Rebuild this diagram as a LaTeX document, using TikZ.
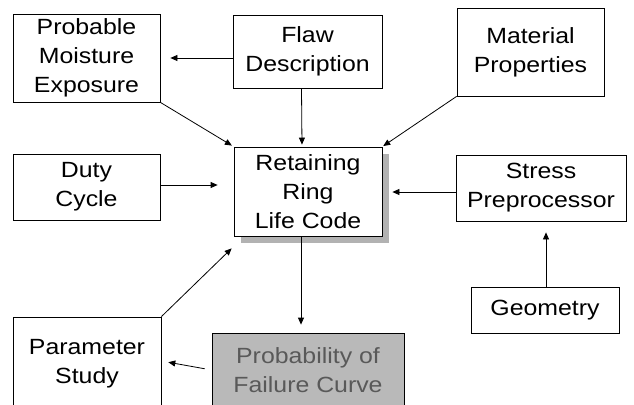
\documentclass[tikz,border=0pt]{standalone}
\usepackage{fontspec}
\setmainfont[FakeStretch=1.13]{Liberation Sans}
\usetikzlibrary{arrows.meta, shadows}
\tikzset{
	>={Triangle[length=7pt,width=6pt]},
	every node/.append style={
		font={\fontsize{22}{29}\selectfont},
	},
	block/.append style={
		draw,
		line width=0.8pt,
		align = center,
		inner sep=0pt,
	},
	shaded/.append style={
		fill=gray!55,
		text=black!65,
	},
	flow/.append style={
		->,
		line width=0.8pt,
	}
}
\begin{document}
\begin{tikzpicture}[x=1pt, y=-1pt]
\clip (0,0) rectangle (634,404);
\fill[white] (0,0) rectangle (634,404);

\node(moist)[block, minimum width=147pt, minimum height=88pt] at (86.5,58) {Probable\\ Moisture\\ Exposure};
\node(flaw)[block, minimum width=149pt, minimum height=73pt] at (307.5,51.5) {Flaw\\ Description};
\node(mat)[block, minimum width=147pt, minimum height=88pt] at (530.5,52) {Material\\ Properties};

\node(duty)[block, minimum width=147pt, minimum height=66pt] at (86.5,187) {Duty\\ Cycle};
\node(ring)[block, fill=white, minimum width=148pt, minimum height=89pt,
	drop shadow={shadow xshift=7pt, shadow yshift=-7pt, fill=gray!60, opacity=1}] at (308,191.5) {Retaining\\ Ring\\ Life Code};
\node(stress)[block, minimum width=170pt, minimum height=66pt] at (541,188) {Stress\\ Preprocessor};

\node(geom)[block, minimum width=148pt, minimum height=46pt] at (545,310) {Geometry};
\node(param)[block, minimum width=148pt, minimum height=94pt] at (87,364) {Parameter\\ Study};
\node(prob)[block, shaded, minimum width=192pt, minimum height=74pt] at (308,370) {Probability of\\ Failure Curve};

\draw[flow] (flaw.west |- moist) -- ([xshift=10pt]moist.east);
\draw[flow, shorten >=2pt] ([xshift=-6pt]flaw.south) -- ([xshift=-6pt]ring.north);
\draw[flow, shorten >=2pt] (moist.south east) -- (ring.north west);
\draw[flow, shorten >=1pt] (mat.south west) -- (ring.north east);
\draw[flow, shorten >=16pt] ([yshift=2pt]duty.east) -- ([yshift=2pt]duty.east -| ring.west);
\draw[flow, shorten >=10pt] ([yshift=-4pt]stress.west) -- ([yshift=-4pt]stress.west -| ring.east);
\draw[flow, shorten >=11pt] ([xshift=1pt]geom.north) -- ([xshift=1pt]geom.north |- stress.south);
\draw[flow, shorten >=8pt] ([xshift=-7pt]ring.south) -- ([xshift=-7pt]ring.south |- prob.north);
\draw[flow] (param.north east) -- ([xshift=-2pt, yshift=-12pt]ring.south west);
\draw[flow, shorten <=7pt, shorten >=7pt] (prob.west) -- ([yshift=3pt]param.east);

\end{tikzpicture}
\end{document}
